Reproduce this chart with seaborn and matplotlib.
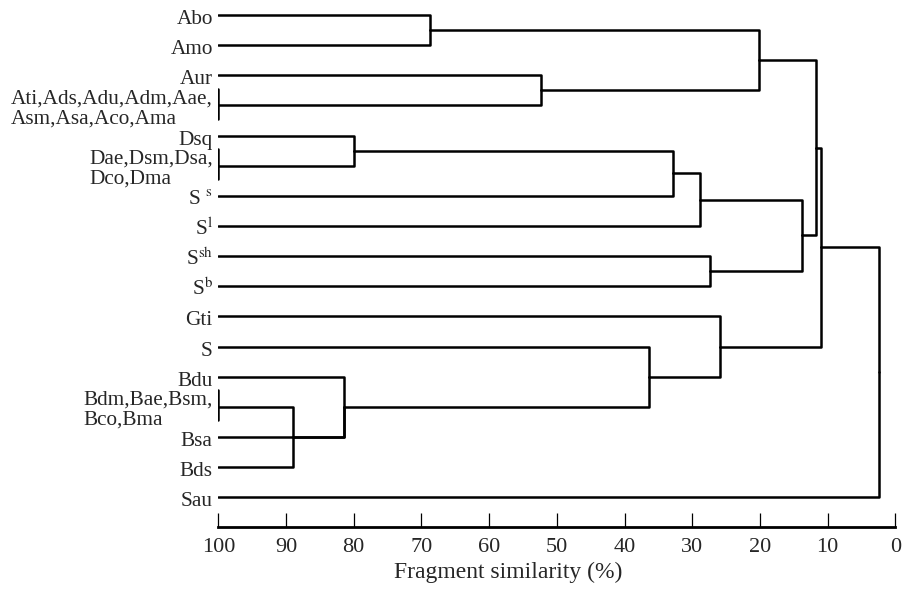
import pandas as pd
import matplotlib
matplotlib.use("Agg")
import matplotlib.pyplot as plt
import seaborn as sns

# leaves, top to bottom
leaf_labels = ["Abo", "Amo", "Aur",
               "Ati,Ads,Adu,Adm,Aae,\nAsm,Asa,Aco,Ama",
               "Dsq", "Dae,Dsm,Dsa,\nDco,Dma",
               r"S $^{\mathrm{s}}$", r"S$^{\mathrm{l}}$", r"S$^{\mathrm{sh}}$", r"S$^{\mathrm{b}}$",
               "Gti", "S", "Bdu", "Bdm,Bae,Bsm,\nBco,Bma", "Bsa", "Bds", "Sau"]
group_leaves = [3, 5, 13]

# merges (new node ids start at len(leaf_labels)), heights in % similarity
merge_children = [[0, 1], [2, 3], [17, 18], [4, 5], [20, 6], [21, 7], [8, 9],
                  [22, 23], [19, 24], [13, 15], [12, 14, 26], [11, 27],
                  [10, 28], [25, 29], [30, 16]]
merge_heights = [68.7, 52.4, 20.2, 80.0, 32.8, 28.8, 27.4,
                 13.8, 11.7, 88.9, 81.4, 36.4,
                 25.9, 11.0, 2.4]

sns.set_style("white")
plt.rcParams["font.family"] = ["Liberation Serif", "DejaVu Serif"]
plt.rcParams["mathtext.fontset"] = "stix"

# build the bracket paths
n = len(leaf_labels)
node_x = {i: 100.0 for i in range(n)}
node_y = {i: float(i) for i in range(n)}
rows = []
seg = 0
for k, (kids, h) in enumerate(zip(merge_children, merge_heights)):
    ys = [node_y[c] for c in kids]
    ny = (min(ys) + max(ys)) / 2
    for c in kids:
        for px, py in [(node_x[c], node_y[c]), (h, node_y[c]), (h, ny)]:
            rows.append({"seg": seg, "x": px, "y": py})
        seg += 1
    node_x[n + k] = h
    node_y[n + k] = ny
for g in group_leaves:
    rows.append({"seg": seg, "x": 100.0, "y": g - 0.55})
    rows.append({"seg": seg, "x": 100.0, "y": g + 0.45})
    seg += 1
segs = pd.DataFrame(rows)

fig = plt.figure(figsize=(9.12, 5.9), dpi=100)
ax = fig.add_axes([0.2394, 0.1068, 0.7423, 0.8932])
sns.lineplot(data=segs, x="x", y="y", units="seg", estimator=None, sort=False,
             color="black", linewidth=1.8, ax=ax, legend=False)

for i, lab in enumerate(leaf_labels):
    if i in group_leaves:
        ax.annotate(lab, xy=(100, i), xytext=(-4, -2.5), textcoords="offset points",
                    ha="right", va="center", multialignment="left",
                    fontsize=15.3, linespacing=1.05)
    else:
        ax.annotate(lab, xy=(100, i), xytext=(-4, -6.5), textcoords="offset points",
                    ha="right", va="baseline", fontsize=15.3)

ax.set_xlim(100, 0)
ax.set_ylim(16.985, -0.5)
ax.set_xticks(range(0, 101, 10))
ax.set_yticks([])
ax.tick_params(axis="x", bottom=True, direction="in", length=10, width=0.9, pad=8,
               labelsize=16, color="black")
sns.despine(ax=ax, left=True)
ax.spines["bottom"].set_linewidth(2.0)
ax.spines["bottom"].set_color("black")
ax.set_ylabel("")
ax.set_xlabel("Fragment similarity (%)", fontsize=17)
ax.xaxis.set_label_coords(0.428, -0.067)

fig.savefig("out.png", dpi=100)
